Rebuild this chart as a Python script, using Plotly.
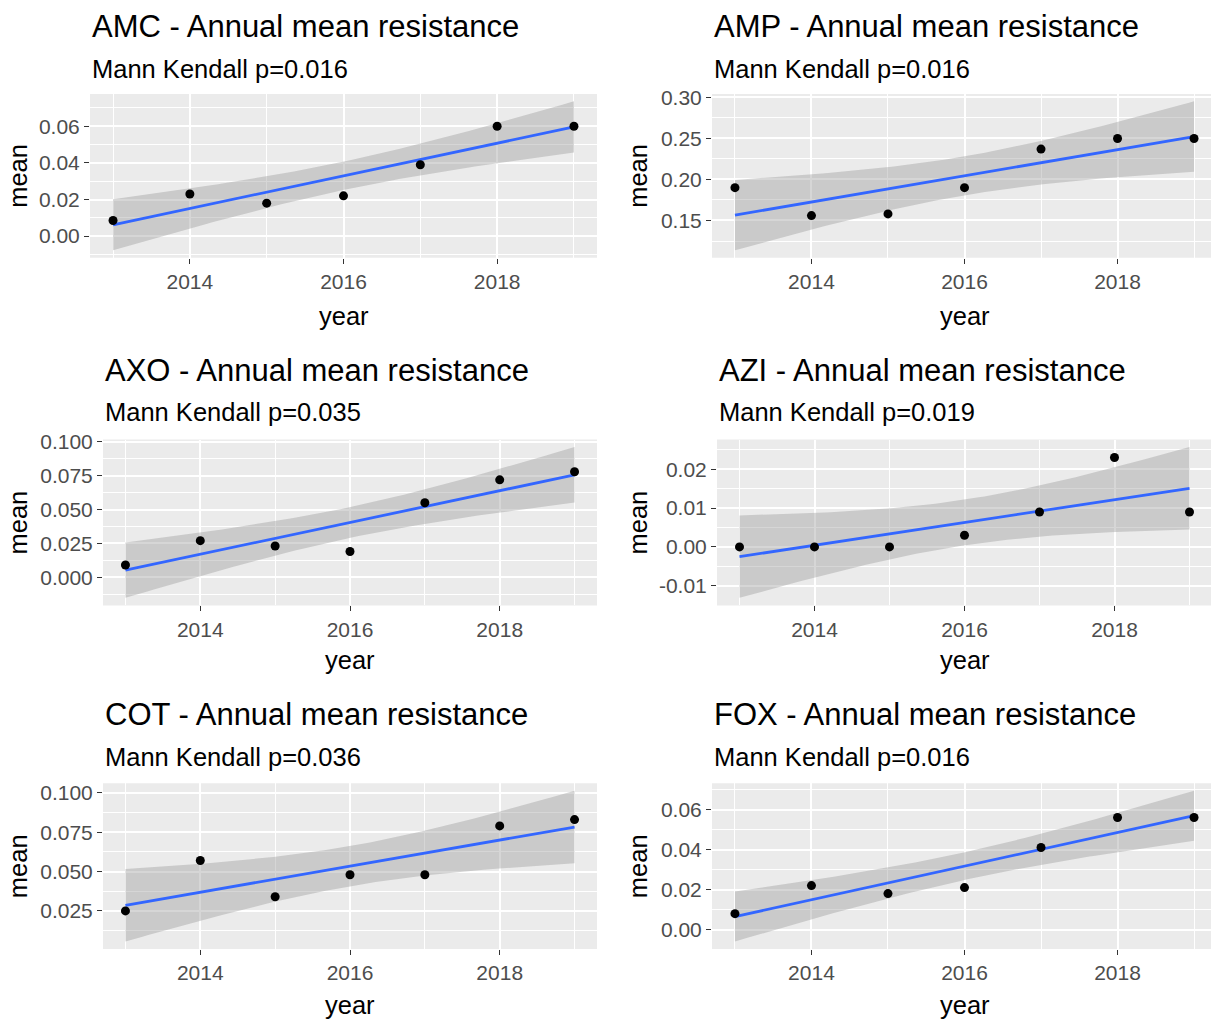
import numpy as np
import plotly.graph_objects as go

# ---------------- data ----------------
years = [2013, 2014, 2015, 2016, 2017, 2018, 2019]
amc = [0.0085, 0.023, 0.018, 0.022, 0.039, 0.060, 0.060]
amp = [0.190, 0.156, 0.158, 0.190, 0.237, 0.250, 0.250]
axo = [0.009, 0.027, 0.023, 0.019, 0.055, 0.072, 0.078]
azi = [0.000, 0.000, 0.000, 0.003, 0.009, 0.023, 0.009]
cot = [0.025, 0.057, 0.034, 0.048, 0.048, 0.079, 0.083]
fox = [0.008, 0.022, 0.018, 0.021, 0.041, 0.056, 0.056]

drugs = ["AMC", "AMP", "AXO", "AZI", "COT", "FOX"]
series = [amc, amp, axo, azi, cot, fox]
pvalues = ["0.016", "0.016", "0.035", "0.019", "0.036", "0.016"]
ytick_step = [0.02, 0.05, 0.025, 0.01, 0.025, 0.02]
ytick_dec = [2, 2, 3, 2, 3, 2]
xtick_vals = [2014, 2016, 2018]

# ---------------- layout (pixels) ----------------
W, H = 1211, 1019


def vy(y):
    # vertical pixel position correction for the rendered page
    return (y - 8) * H / (H - 8)


# panel boxes: left, right (full, may be clipped), top, bottom
panels = [
    (90, 597, 93, 257),
    (712, 1217, 93, 257),
    (103, 597, 439, 605),
    (717, 1212, 439, 605),
    (103, 597, 783, 949),
    (712, 1217, 783, 949),
]
title_y = [26, 26, 370, 370, 714, 714]
sub_y = [68, 68, 411, 411, 757, 757]
xlab_y = [315, 315, 660, 660, 1005, 1005]
ylab_x = [18, 638, 18, 638, 18, 638]

T975_DF5 = 2.570582  # Student t quantile, df = n - 2 = 5

FONT = "Liberation Sans, Arial, sans-serif"
PANEL_BG = "#EBEBEB"
TICK_SIZE = 21
TITLE_SIZE = 31
SUB_SIZE = 25.5

fig = go.Figure()
annotations = []

for i, (drug, yv) in enumerate(zip(drugs, series)):
    x = np.array(years, dtype=float)
    y = np.array(yv, dtype=float)
    n = len(x)
    b, a = np.polyfit(x, y, 1)
    resid = y - (a + b * x)
    s = np.sqrt(np.sum(resid ** 2) / (n - 2))
    sxx = np.sum((x - x.mean()) ** 2)
    xs = np.linspace(x.min(), x.max(), 80)
    fit = a + b * xs
    se = s * np.sqrt(1.0 / n + (xs - x.mean()) ** 2 / sxx)
    lo = fit - T975_DF5 * se
    hi = fit + T975_DF5 * se

    k = "" if i == 0 else str(i + 1)
    xa, ya = "x" + k, "y" + k

    fig.add_trace(go.Scatter(
        x=np.concatenate([xs, xs[::-1]]), y=np.concatenate([hi, lo[::-1]]),
        fill="toself", fillcolor="rgba(153,153,153,0.4)", line=dict(width=0),
        hoverinfo="skip", showlegend=False, xaxis=xa, yaxis=ya))
    fig.add_trace(go.Scatter(
        x=xs, y=fit, mode="lines", line=dict(color="#3366FF", width=2.8),
        showlegend=False, xaxis=xa, yaxis=ya))
    fig.add_trace(go.Scatter(
        x=x, y=y, mode="markers", marker=dict(color="black", size=9),
        showlegend=False, xaxis=xa, yaxis=ya))

    # ranges as ggplot: 5% expansion of data extent
    ymin = min(lo.min(), y.min())
    ymax = max(hi.max(), y.max())
    pad = 0.05 * (ymax - ymin)
    yr = [ymin - pad, ymax + pad]
    x0, x1 = 2013 - 0.3, 2019 + 0.3
    L, R, T, B = panels[i]
    T, B = vy(T), vy(B)
    Rvis = min(R, W)
    x1vis = x0 + (x1 - x0) * (Rvis - L) / (R - L)

    step = ytick_step[i]
    k0 = int(np.ceil(yr[0] / step - 1e-9))
    k1 = int(np.floor(yr[1] / step + 1e-9))
    yvals = [j * step for j in range(k0, k1 + 1)]
    zero = "0." + "0" * ytick_dec[i]
    ytext = [f"{v:.{ytick_dec[i]}f}".replace("-" + zero, zero) for v in yvals]
    yminor = [(j + 0.5) * step for j in range(k0 - 1, k1 + 1)]

    fig.layout["xaxis" + k] = dict(
        domain=[L / W, Rvis / W], anchor=ya, range=[x0, x1vis],
        tickvals=xtick_vals, ticks="outside", ticklen=5, tickwidth=1.4,
        tickcolor="#333333", showgrid=True, gridcolor="white", gridwidth=1.8,
        zeroline=False, showline=False,
        tickfont=dict(family=FONT, size=TICK_SIZE, color="#4D4D4D"),
        minor=dict(tickvals=[2013, 2015, 2017, 2019], showgrid=True,
                   gridcolor="white", gridwidth=0.9, ticks=""),
        fixedrange=True)
    fig.layout["yaxis" + k] = dict(
        domain=[1 - B / H, 1 - T / H], anchor=xa, range=yr,
        tickvals=yvals, ticktext=ytext,
        ticks="outside", ticklen=5, tickwidth=1.4, tickcolor="#333333",
        showgrid=True, gridcolor="white", gridwidth=1.8,
        zeroline=False, showline=False,
        tickfont=dict(family=FONT, size=TICK_SIZE, color="#4D4D4D"),
        minor=dict(tickvals=yminor, showgrid=True,
                   gridcolor="white", gridwidth=0.9, ticks=""),
        fixedrange=True)

    # panel background
    fig.add_shape(type="rect", xref="paper", yref="paper",
                  x0=L / W, x1=Rvis / W, y0=1 - B / H, y1=1 - T / H,
                  fillcolor=PANEL_BG, line=dict(width=0), layer="below")

    annotations.append(dict(
        text=f"{drug} - Annual mean resistance", xref="paper", yref="paper",
        x=L / W, y=1 - vy(title_y[i]) / H, xanchor="left", yanchor="middle",
        showarrow=False, font=dict(family=FONT, size=TITLE_SIZE, color="black")))
    annotations.append(dict(
        text=f"Mann Kendall p={pvalues[i]}", xref="paper", yref="paper",
        x=L / W, y=1 - vy(sub_y[i]) / H, xanchor="left", yanchor="middle",
        showarrow=False, font=dict(family=FONT, size=SUB_SIZE, color="black")))
    annotations.append(dict(
        text="year", xref="paper", yref="paper",
        x=(L + R) / 2 / W, y=1 - vy(xlab_y[i]) / H, xanchor="center", yanchor="middle",
        showarrow=False, font=dict(family=FONT, size=SUB_SIZE, color="black")))
    annotations.append(dict(
        text="mean", xref="paper", yref="paper", textangle=-90,
        x=ylab_x[i] / W, y=1 - (T + B) / 2 / H, xanchor="center", yanchor="middle",
        showarrow=False, font=dict(family=FONT, size=SUB_SIZE, color="black")))

fig.update_layout(
    width=W, height=H, margin=dict(l=0, r=0, t=0, b=0),
    paper_bgcolor="white", plot_bgcolor="rgba(0,0,0,0)",
    showlegend=False, annotations=annotations,
    font=dict(family=FONT))

fig.write_html(
    "out.html", include_plotlyjs=True, config={"displayModeBar": False},
    post_script="document.body.style.margin='0';document.body.style.padding='0';"
                "document.documentElement.style.overflow='hidden';")
